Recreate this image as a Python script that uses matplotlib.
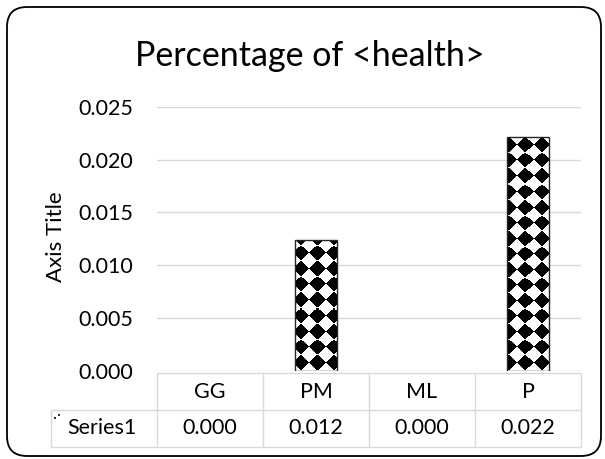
import numpy as np
import matplotlib
matplotlib.use("Agg")
import matplotlib.pyplot as plt
from matplotlib.patches import FancyBboxPatch, Rectangle
from matplotlib.lines import Line2D

# ---- data ----
categories = ["GG", "PM", "ML", "P"]
values = [0.0, 0.0124, 0.0, 0.0221]
value_labels = ["0.000", "0.012", "0.000", "0.022"]
series_name = "Series1"
yticks = [0.000, 0.005, 0.010, 0.015, 0.020, 0.025]
ytick_labels = ["0.000", "0.005", "0.010", "0.015", "0.020", "0.025"]
chart_title = "Percentage of <health>"
y_title = "Axis Title"

# ---- figure setup (pixel based) ----
W, H, DPI = 605, 459, 100
plt.rcParams['font.family'] = ['Lato', 'DejaVu Sans']
fig = plt.figure(figsize=(W / DPI, H / DPI), dpi=DPI)
fig.patch.set_facecolor("white")

GRID = "#d9d9d9"
EDGE = "#262626"
TEXT = "#000000"
FS = 15.5

plot_l, plot_r, plot_t, plot_b = 157, 581, 106.7, 371
ax = fig.add_axes([plot_l / W, 1 - plot_b / H,
                   (plot_r - plot_l) / W, (plot_b - plot_t) / H])
ax.set_facecolor("none")
x = np.arange(len(categories))
ax.set_xlim(-0.5, len(categories) - 0.5)
ax.set_ylim(yticks[0], yticks[-1])

# background overlay in pixel coordinates (origin top-left)
ov = fig.add_axes([0, 0, 1, 1], zorder=-1)
ov.set_xlim(0, W)
ov.set_ylim(H, 0)
ov.axis("off")


def diamond_texture(nx, ny, x0, y0, px=16.0, py=15.5, dx=13.0, dy=5.5):
    """Black diamonds on white (45-degree checker), sampled at figure pixels."""
    xs = x0 + np.arange(nx) + 0.5
    ys = y0 + np.arange(ny) + 0.5
    X, Y = np.meshgrid(xs, ys)
    a = (X - dx) / px
    b = (Y - dy) / py
    black = (np.abs(a - np.round(a)) + np.abs(b - np.round(b))) < 0.5
    img = np.ones((ny, nx, 3))
    img[black] = 0.0
    return img


# bars: white fill, patterned texture clipped to each bar, dark outline
bar_w = 0.4
bars = ax.bar(x, values, width=bar_w, color="white", edgecolor="none", zorder=2)
tex = diamond_texture(int(plot_r - plot_l), int(round(plot_b - plot_t)),
                      plot_l, plot_t)
for b, v in zip(bars, values):
    if v <= 0:
        continue
    im = ax.imshow(tex, extent=[0, 1, 0, 1], transform=ax.transAxes,
                   interpolation="nearest", aspect="auto", zorder=3)
    im.set_clip_path(b)
ax.bar(x, values, width=bar_w, color="none",
       edgecolor=[EDGE if v > 0 else "none" for v in values],
       linewidth=1.0, zorder=4)
ax.set_xlim(-0.5, len(categories) - 0.5)
ax.set_ylim(yticks[0], yticks[-1])

# axes styling
for s in ax.spines.values():
    s.set_visible(False)
ax.set_yticks(yticks)
ax.set_yticklabels(ytick_labels, fontsize=FS, color=TEXT)
ax.tick_params(axis="y", length=0, pad=17)
ax.set_xticks([])
ax.yaxis.grid(True, color=GRID, linewidth=1.0, zorder=0)
ax.set_axisbelow(True)

# column edges of the data table follow the category bands
fig.canvas.draw()
def to_px(xd, yd):
    dxp, dyp = ax.transData.transform((xd, yd))
    return dxp, H - dyp

col_edges = [to_px(e, 0)[0] for e in np.arange(-0.5, len(categories), 1.0)]
row_top, row_mid, row_bot = 373, 410, 447
label_left = 51

lk = dict(color=GRID, linewidth=1.0, solid_capstyle="butt")
ov.add_line(Line2D([col_edges[0], col_edges[-1]], [row_top, row_top], **lk))
ov.add_line(Line2D([label_left, col_edges[-1]], [row_mid, row_mid], **lk))
ov.add_line(Line2D([label_left, col_edges[-1]], [row_bot, row_bot], **lk))
ov.add_line(Line2D([label_left, label_left], [row_mid, row_bot], **lk))
for e in col_edges:
    ov.add_line(Line2D([e, e], [row_top, row_bot], **lk))

for i, (c, lab) in enumerate(zip(categories, value_labels)):
    cx = (col_edges[i] + col_edges[i + 1]) / 2
    ov.text(cx, (row_top + row_mid) / 2, c, ha="center", va="center",
            fontsize=FS, color=TEXT)
    ov.text(cx, (row_mid + row_bot) / 2, lab, ha="center", va="center",
            fontsize=FS, color=TEXT)

# legend key (sparse pattern swatch) and series name in the table
for kx, ky in [(55, 418), (59, 415)]:
    ov.add_patch(Rectangle((kx - 0.8, ky - 0.8), 1.6, 1.6,
                           facecolor="#333333", edgecolor="none"))
ov.text(67, (row_mid + row_bot) / 2, series_name, ha="left", va="center",
        fontsize=FS, color=TEXT)

# title and y-axis title
ov.text(W / 2 + 7, 56, chart_title, ha="center", va="center",
        fontsize=24.5, color=TEXT)
ov.text(56, 237, y_title, ha="center", va="center", rotation=90,
        fontsize=16, color=TEXT)

# rounded chart border
border = FancyBboxPatch((7, 7), 594, 449,
                        boxstyle="round,pad=0,rounding_size=20",
                        facecolor="none", edgecolor="black", linewidth=1.3)
ov.add_patch(border)

fig.savefig("out.png", dpi=DPI, facecolor="white")
